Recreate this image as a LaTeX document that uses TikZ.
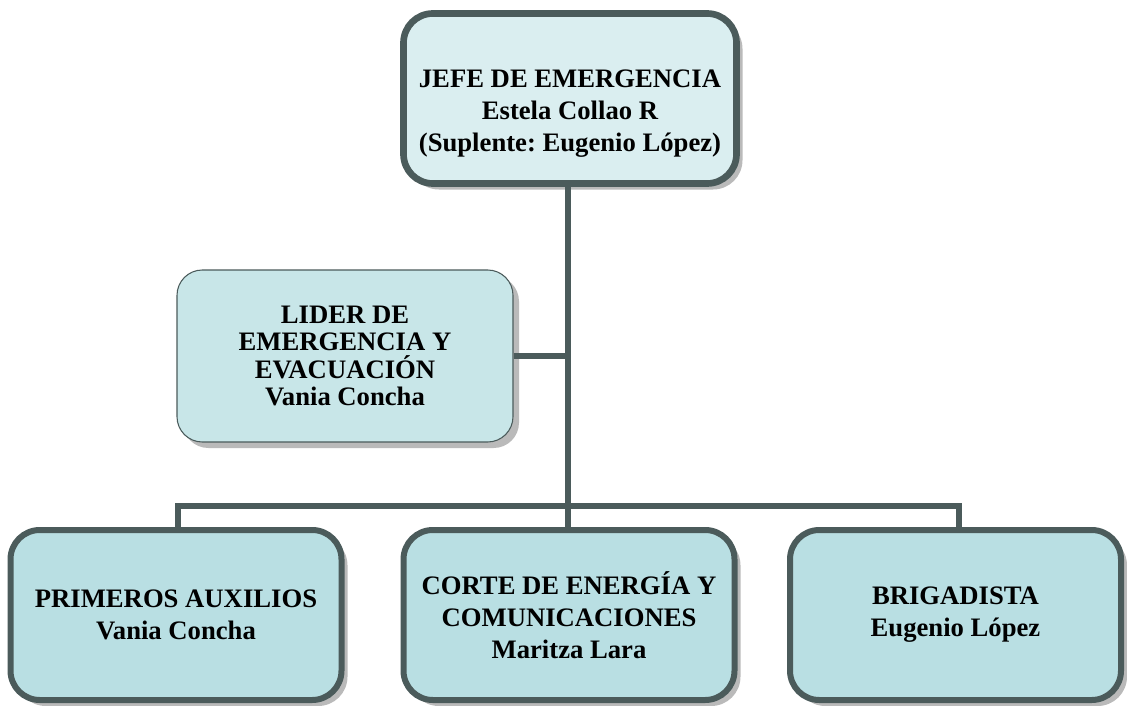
\documentclass[tikz,border=0pt]{standalone}
\usepackage{fontspec}
\setmainfont{Liberation Serif}
\usetikzlibrary{shadows}
\frenchspacing
\definecolor{edgegray}{HTML}{4B5B5B}
\definecolor{topfill}{HTML}{DAEEF0}
\definecolor{leadfill}{HTML}{C8E6E8}
\definecolor{teamfill}{HTML}{B9DFE3}
\tikzset{
  shade box/.style={drop shadow={shadow xshift=4.5pt,shadow yshift=-4.5pt,fill=black!27,opacity=1}},
  bosbox/.style={draw=edgegray,line width=5pt,rounded corners=22pt,fill=topfill,shade box,
    minimum width=249.75pt,minimum height=127.5pt},
  leadbox/.style={draw=edgegray,line width=0.8pt,rounded corners=19pt,fill=leadfill,shade box,
    minimum width=252pt,minimum height=129pt,align=center,font=\bfseries\fontsize{20}{20.5}\selectfont},
  teambox/.style={draw=edgegray,line width=4.5pt,rounded corners=22pt,fill=teamfill,shade box,
    minimum width=248.25pt,minimum height=127.5pt,align=center,font=\bfseries\fontsize{20}{24}\selectfont},
  txt/.style={align=center,font=\bfseries\fontsize{20}{24}\selectfont},
  link/.style={draw=edgegray,line width=4.5pt}
}
\begin{document}
\begin{tikzpicture}[x=0.75pt,y=-0.75pt]
  \useasboundingbox (0,0) rectangle (1127,706);
  % boxes
  \node[bosbox] (jefe) at (570,98.5) {};
  \node[txt] (jefetxt) at ([yshift=-11pt]jefe.center) {JEFE DE EMERGENCIA\\Estela Collao R\\(Suplente: Eugenio López)};
  \node[leadbox] (lider) at (345,356) {LIDER DE\\EMERGENCIA Y\\EVACUACIÓN\\Vania Concha};
  \node[teambox] (auxilios) at (176,615) {PRIMEROS AUXILIOS\\Vania Concha};
  \node[teambox] (corte) at (569,615) {CORTE DE ENERGÍA Y\\COMUNICACIONES\\Maritza Lara};
  \node[teambox] (brigada) at (955.5,615) {BRIGADISTA\\Eugenio López};
  % connectors
  \coordinate (bar) at (568,506);
  \coordinate (barL) at (178,506);
  \coordinate (barR) at (959,506);
  \draw[link] (jefe.south -| bar) -- (corte.north -| bar);
  \draw[link] (lider.east) -- (lider.east -| bar);
  \draw[link] (auxilios.north -| barL) -- (barL) -- (barR) -- (brigada.north -| barR);
\end{tikzpicture}
\end{document}
